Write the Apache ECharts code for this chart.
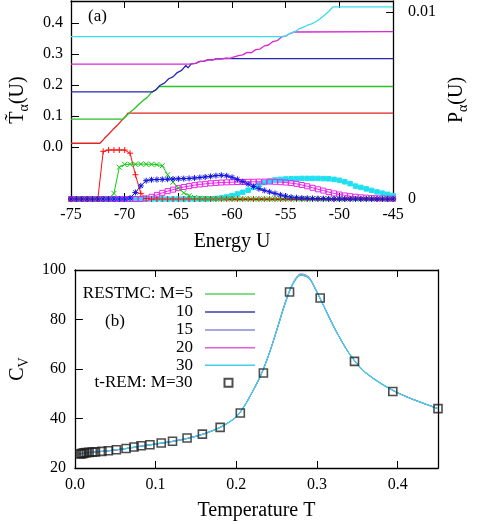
<!DOCTYPE html>
<html><head><meta charset="utf-8">
<script src="https://cdn.jsdelivr.net/npm/echarts@6/dist/echarts.min.js"></script>
<style>html,body{margin:0;padding:0;background:#fff}#c{width:478px;height:524px}</style>
</head><body><div id="c"></div>
<script>
const FONT = '"Liberation Serif", serif';

// ---------- panel (a): energy bins for histograms ----------
const energyBins = [-75,-74.5,-74,-73.5,-73,-72.5,-72,-71.5,-71,-70.5,-70,-69.5,-69,-68.5,-68,-67.5,-67,-66.5,-66,-65.5,-65,-64.5,-64,-63.5,-63,-62.5,-62,-61.5,-61,-60.5,-60,-59.5,-59,-58.5,-58,-57.5,-57,-56.5,-56,-55.5,-55,-54.5,-54,-53.5,-53,-52.5,-52,-51.5,-51,-50.5,-50,-49.5,-49,-48.5,-48,-47.5,-47,-46.5,-46,-45.5,-45];

const histRed = [0,0,0,0,0,0,0.00255,0.00262,0.00262,0.00262,0.00262,0.00245,0.00130,0.00030,0.00003,
 0,0,0,0,0,0,0,0,0,0,0,0,0,0,0,0,0,0,0,0,0,0,0,0,0,0,0,0,0,0,0,0,0,0,0,0,0,0,0,0,0,0,0,0,0,0];
const histGreen = [0,0,0,0,0,0,0,0,0.00030,0.00170,0.00185,0.00186,0.00186,0.00187,0.00186,0.00186,0.00184,0.00178,0.00130,0.00090,0.00058,0.00033,0.00018,0.00008,0.00004,0.00002,0.00001,
 0,0,0,0,0,0,0,0,0,0,0,0,0,0,0,0,0,0,0,0,0,0,0,0,0,0,0,0,0,0,0,0,0,0];
const histBlue = [0,0,0,0,0,0,0,0,0,0,0,0.00005,0.00035,0.00070,0.00098,0.00103,0.00104,0.00105,0.00106,0.00107,0.00108,0.00109,0.00110,0.00112,0.00115,0.00118,0.00121,0.00125,0.00127,0.00124,0.00116,0.00105,0.00093,0.00080,0.00067,0.00055,0.00046,0.00038,0.00030,0.00022,0.00015,0.00010,0.00007,0.00005,0.00004,0.00003,0.00002,0.00002,0.00001,
 0,0,0,0,0,0,0,0,0,0,0,0];
const histMagenta = [0,0,0,0,0,0,0,0,0,0,0,0,0,0,0.00003,0.00012,0.00022,0.00033,0.00042,0.00050,0.00058,0.00064,0.00069,0.00074,0.00078,0.00081,0.00084,0.00086,0.00088,0.00089,0.00090,0.00091,0.00091,0.00092,0.00092,0.00093,0.00093,0.00093,0.00092,0.00090,0.00088,0.00085,0.00081,0.00075,0.00068,0.00060,0.00052,0.00045,0.00037,0.00030,0.00024,0.00019,0.00015,0.00012,0.00009,0.00007,0.00005,0.00004,0.00003,0.00002,0.00002];
const histCyan = [0,0,0,0,0,0,0,0,0,0,0,0,0,0,0,0,0,0,0,0,0,0,0,0,0,0,0.00001,0.00003,0.00006,0.00011,0.00018,0.00027,0.00036,0.00047,0.00062,0.00076,0.00088,0.00096,0.00102,0.00105,0.00107,0.00108,0.00109,0.00110,0.00110,0.00110,0.00110,0.00109,0.00108,0.00105,0.00100,0.00092,0.00082,0.00069,0.00062,0.00054,0.00046,0.00038,0.00031,0.00025,0.00018];

// common temperature curve T(U)
const curveU = [-72.3,-71.9,-71.5,-71.1,-70.7,-70.3,-69.9,-69.5,-69.1,-68.7,-68.3,-67.9,-67.5,-67.1,-66.7,-66.3,-65.9,-65.5,-65.1,-64.7,-64.3,-64.1,-63.8,-63.4,-63.0,-62.6,-62.2,-61.8,-61.4,-61.0,-60.6,-60.2,-59.8,-59.4,-59.0,-58.6,-58.2,-57.8,-57.4,-57.0,-56.6,-56.2,-55.8,-55.4,-55.0,-54.6,-54.2,-53.8,-53.4,-53.0,-52.6,-52.2,-51.8,-51.4,-51.0,-50.6];
const curveT = [0.012,0.027,0.041,0.056,0.069,0.085,0.099,0.112,0.123,0.137,0.149,0.160,0.176,0.184,0.199,0.206,0.220,0.226,0.240,0.247,0.263,0.255,0.268,0.270,0.276,0.277,0.282,0.281,0.285,0.284,0.287,0.286,0.291,0.295,0.297,0.305,0.304,0.314,0.316,0.326,0.329,0.340,0.343,0.355,0.358,0.366,0.371,0.380,0.386,0.392,0.397,0.404,0.414,0.425,0.437,0.452];
// per replica: low / high temperature and energies where they join the curve
const tLow   = [0.012, 0.090, 0.178, 0.267, 0.356];
const tHigh  = [0.109, 0.195, 0.285, 0.372, 0.452];
const tStartU = [-72.3, -70.15, -67.4, -64.0, -55.4];
const tEndU   = [-69.7, -66.8, -60.7, -54.1, -50.6];
const replicaColors = ['#e02424','#26c426','#2626b4','#d628d6','#38dcec'];

// ---------- panel (b) ----------
const cvT = [0.005,0.02,0.04,0.06,0.08,0.10,0.12,0.14,0.16,0.18,0.19,0.20,0.21,0.22,0.23,0.24,0.25,0.26,0.27,0.28,0.29,0.30,0.31,0.32,0.33,0.34,0.35,0.36,0.38,0.40,0.42,0.45];
const cvM5  = [25.7,26.3,26.9,27.7,28.7,29.7,30.7,32.0,33.8,36.4,38.3,40.7,45.0,50.8,57.2,65.5,75.5,86.0,94.2,97.8,96.7,91.0,84.4,77.6,71.6,66.2,62.0,58.6,54.0,50.4,47.6,44.0];
const cvM10 = [25.7,26.3,26.9,27.7,28.7,29.7,30.7,32.0,33.8,36.4,38.3,40.7,45.0,50.8,57.2,65.5,75.5,86.0,94.4,98.0,96.8,91.0,84.4,77.6,71.6,66.2,62.0,58.6,54.0,50.4,47.6,44.0];
const cvM15 = [25.7,26.3,26.9,27.7,28.7,29.7,30.7,32.0,33.8,36.4,38.3,40.7,45.0,50.8,57.2,65.5,75.6,86.2,94.7,98.5,97.2,91.2,84.4,77.6,71.6,66.2,62.0,58.6,54.0,50.4,47.6,44.0];
const cvM20 = [25.7,26.3,26.9,27.7,28.7,29.7,30.7,32.0,33.8,36.4,38.3,40.7,45.0,50.8,57.2,65.5,75.5,86.0,94.4,98.1,96.9,91.0,84.4,77.6,71.6,66.2,62.0,58.6,54.0,50.4,47.6,44.0];
const cvM30 = [25.7,26.3,26.9,27.7,28.7,29.7,30.7,32.0,33.8,36.4,38.3,40.7,45.0,50.8,57.2,65.5,75.5,86.0,94.3,98.0,96.7,91.0,84.4,77.6,71.6,66.2,62.0,58.6,54.0,50.4,47.6,44.0];
const remT  = [0.0065,0.0084,0.0100,0.0116,0.0140,0.0176,0.0215,0.0255,0.0335,0.0415,0.0514,0.0634,0.0733,0.082,0.093,0.107,0.121,0.139,0.158,0.180,0.205,0.2336,0.266,0.304,0.3465,0.394,0.45];
const remCv = [25.7,25.8,25.9,26.1,26.2,26.3,26.4,26.5,26.7,27.0,27.4,27.9,28.5,29.0,29.4,30.1,30.8,32.1,33.7,36.4,42.2,58.4,91.1,88.7,63.1,50.9,44.0];
const cvNames = ['RESTMC: M=5','10','15','20','30'];
const cvColors = ['#5ad25a','#3c3ca8','#8a8ad8','#e060e0','#40d0ea'];
const remName = 't-REM: M=30';

// ---------- build ----------
const zip = (a,b) => a.map((v,i)=>[v,b[i]]);
function replicaLine(i){
  const pts = [[-75,tLow[i]],[tStartU[i],tLow[i]]];
  for (let k=0;k<curveU.length;k++) if (curveU[k]>tStartU[i] && curveU[k]<tEndU[i]) pts.push([curveU[k],curveT[k]]);
  pts.push([tEndU[i],tHigh[i]],[-45,tHigh[i]]);
  return pts;
}
const txt = {fontFamily:FONT, fontSize:16, color:'#000'};
const aLine = {show:true, onZero:false, lineStyle:{color:'#000', width:1.3}};
const noSplit = {show:false};

const histSpecs = [
  {d:histCyan, c:'#20e0f0', sym:'rect', size:4.5, fill:'#20e0f0'},
  {d:histMagenta, c:'#ee22ee', sym:'rect', size:5, fill:'rgba(255,255,255,0)'},
  {d:histRed, c:'#ff1010', sym:'path://M0,5L10,5M5,0L5,10', size:6, fill:'#ff1010'},
  {d:histGreen, c:'#10c810', sym:'path://M1,1L9,9M9,1L1,9', size:5, fill:'#10c810'},
  {d:histBlue, c:'#1414e0', sym:'path://M0,5L10,5M5,0L5,10M1.5,1.5L8.5,8.5M8.5,1.5L1.5,8.5', size:6, fill:'#1414e0'}
];
const series = [];
histSpecs.forEach(h=>{
  series.push({type:'line', xAxisIndex:0, yAxisIndex:1, data:zip(energyBins,h.d), symbol:h.sym, symbolSize:h.size, showAllSymbol:true,
    lineStyle:{color:h.c, width:1}, itemStyle:{color:h.fill, borderColor:h.c, borderWidth:1}, z:2, silent:true});
});
for (let i=0;i<5;i++){
  series.push({type:'line', xAxisIndex:0, yAxisIndex:0, data:replicaLine(i), symbol:'none', lineStyle:{color:replicaColors[i], width:1.3}, z:3, silent:true});
}
[cvM5,cvM10,cvM15,cvM20,cvM30].forEach((arr,i)=>{
  series.push({name:cvNames[i], type:'line', xAxisIndex:2, yAxisIndex:2, data:zip(cvT,arr), symbol:'none', smooth:0.3,
    lineStyle:{color:cvColors[i], width:i===4?1.3:1}, itemStyle:{color:cvColors[i]}, z:3, silent:true});
});
series.push({name:remName, type:'scatter', xAxisIndex:2, yAxisIndex:2, data:zip(remT,remCv), symbol:'rect', symbolSize:8,
  itemStyle:{color:'rgba(255,255,255,0)', borderColor:'#222', borderWidth:1.6}, z:4, silent:true});

const legendCenters = [294,312,330,347.7,365.3];
const legends = cvNames.map((n,i)=>({
  data:[{name:n, icon:'rect'}], orient:'horizontal', align:'right', right:478-255, top:legendCenters[i]-9, padding:0,
  itemWidth:50, itemHeight:1.5, selectedMode:false,
  textStyle:{fontFamily:FONT, fontSize:17, color:'#000', lineHeight:18, padding:[0,7,0,0]}
}));
legends.push({data:[remName], orient:'horizontal', align:'right', right:478-233.5, top:382.7-9, padding:0,
  itemWidth:8, itemHeight:8, selectedMode:false,
  textStyle:{fontFamily:FONT, fontSize:17, color:'#000', lineHeight:18, padding:[0,27,0,0]}});

const option = {
  animation:false, backgroundColor:'#fff',
  grid:[{left:62, top:1, width:371, height:198},{left:62, top:270, width:376, height:198}],
  legend: legends,
  xAxis:[
    {gridIndex:0, type:'value', min:-75, max:-45, interval:5, position:'bottom', axisLine:aLine,
     axisTick:{inside:true, length:6, customValues:[-70,-65,-60,-55,-50], lineStyle:{color:'#000'}},
     axisLabel:Object.assign({margin:8}, txt), splitLine:noSplit,
     name:'Energy U', nameLocation:'middle', nameGap:33, nameTextStyle:{fontFamily:FONT, fontSize:20, color:'#000'}},
    {gridIndex:0, type:'value', min:-75, max:-45, interval:5, position:'top', axisLine:aLine,
     axisTick:{inside:true, length:7, customValues:[-70,-65,-60,-55,-50], lineStyle:{color:'#000'}},
     axisLabel:{show:false}, splitLine:noSplit},
    {gridIndex:1, type:'value', min:0, max:0.45, position:'bottom', axisLine:aLine,
     axisTick:{inside:true, length:7, customValues:[0.1,0.2,0.3,0.4], lineStyle:{color:'#000'}},
     axisLabel:Object.assign({margin:9, customValues:[0,0.1,0.2,0.3,0.4], formatter:v=>v.toFixed(1)}, txt), splitLine:noSplit,
     name:'Temperature T', nameLocation:'middle', nameGap:33, nameTextStyle:{fontFamily:FONT, fontSize:20, color:'#000'}},
    {gridIndex:1, type:'value', min:0, max:0.45, position:'top', axisLine:aLine,
     axisTick:{inside:true, length:7, customValues:[0.1,0.2,0.3,0.4], lineStyle:{color:'#000'}},
     axisLabel:{show:false}, splitLine:noSplit}
  ],
  yAxis:[
    {gridIndex:0, type:'value', min:-0.168, max:0.471, position:'left', axisLine:aLine,
     axisTick:{inside:true, length:8, customValues:[0,0.1,0.2,0.3,0.4], lineStyle:{color:'#000'}},
     axisLabel:Object.assign({margin:8, customValues:[0,0.1,0.2,0.3,0.4], formatter:v=>v.toFixed(1)}, txt), splitLine:noSplit,
     name:'{m|T\u0303}{s|α}{m|(U)}', nameLocation:'middle', nameRotate:90, nameGap:40,
     nameTextStyle:{fontFamily:FONT, fontSize:20, color:'#000', rich:{
       m:{fontFamily:FONT, fontSize:20, lineHeight:26, verticalAlign:'middle'},
       s:{fontFamily:FONT, fontSize:14, lineHeight:14, verticalAlign:'bottom'}}}},
    {gridIndex:0, type:'value', min:0, max:0.01059, position:'right', axisLine:aLine,
     axisTick:{inside:true, length:7, customValues:[0.01], lineStyle:{color:'#000'}},
     axisLabel:Object.assign({margin:15, customValues:[0,0.01], formatter:v=> v===0?'0':'0.01'}, txt), splitLine:noSplit,
     name:'{m|P}{s|α}{m|(U)}', nameLocation:'middle', nameRotate:90, nameGap:20,
     nameTextStyle:{fontFamily:FONT, fontSize:20, color:'#000', rich:{
       m:{fontFamily:FONT, fontSize:20, lineHeight:26, verticalAlign:'middle'},
       s:{fontFamily:FONT, fontSize:14, lineHeight:14, verticalAlign:'bottom'}}}},
    {gridIndex:1, type:'value', min:20, max:100, interval:20, position:'left', axisLine:aLine,
     axisTick:{inside:true, length:8, customValues:[40,60,80], lineStyle:{color:'#000'}},
     axisLabel:Object.assign({margin:9}, txt), splitLine:noSplit,
     name:'{m|C}{s|V}', nameLocation:'middle', nameRotate:90, nameGap:42,
     nameTextStyle:{fontFamily:FONT, fontSize:20, color:'#000', rich:{
       m:{fontFamily:FONT, fontSize:20, lineHeight:26, verticalAlign:'middle'},
       s:{fontFamily:FONT, fontSize:14, lineHeight:14, verticalAlign:'bottom'}}}},
    {gridIndex:1, type:'value', min:20, max:100, position:'right', axisLine:aLine,
     axisTick:{show:false}, axisLabel:{show:false}, splitLine:noSplit}
  ],
  graphic:[
    {type:'text', left:88, top:8, style:{text:'(a)', font:'17px "Liberation Serif", serif', fill:'#000'}},
    {type:'text', left:105, top:313, style:{text:'(b)', font:'17px "Liberation Serif", serif', fill:'#000'}}
  ],
  series: series
};
const chart = echarts.init(document.getElementById('c'));
chart.setOption(option);
</script></body></html>
